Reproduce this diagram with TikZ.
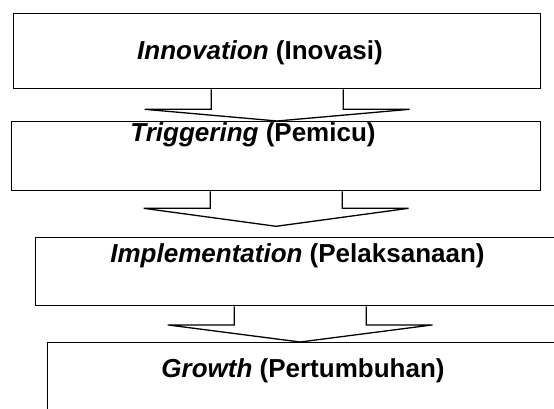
\documentclass[tikz,border=0pt]{standalone}
\usepackage{fontspec}
\setmainfont{Liberation Sans}
\usetikzlibrary{positioning,calc}
\tikzstyle{stage} = [rectangle, draw=black, fill=white, line width=1.3pt, anchor=north west, inner sep=0pt]
\tikzstyle{stagelabel} = [font=\bfseries\fontsize{26}{31}\selectfont, anchor=base, inner sep=0pt]
\tikzstyle{blockarrow} = [draw=black, fill=white, line width=1.3pt, line join=miter]
% wide arrow hanging from the bottom of a box: #1 box, #2 tip, #3 stem length
\newcommand{\stagearrow}[3]{%
  \draw[blockarrow] ($(#1.south)+(-66,0)$) -- ++(0,#3) -- ++(-66.5,0) -- (#2)
    -- ($(#1.south)+(132.5,#3)$) -- ++(-66.5,0) -- ++(0,-#3);}

\begin{document}
\begin{tikzpicture}[x=1pt,y=-1pt]
\useasboundingbox (0,0) rectangle (554,409);
\clip (0,0) rectangle (554,409);

% Stage boxes
\node (inno) [stage, minimum width=527pt, minimum height=75pt] at (13,13) {};
\node (trig) [stage, minimum width=529pt, minimum height=69pt] at (11,121) {};
\node (impl) [stage, minimum width=529pt, minimum height=68pt] at (35,237) {};
\node (grow) [stage, minimum width=600pt, minimum height=100pt] at (47,342) {};

% Labels
\node (innotxt) [stagelabel] at (260,60) {\textit{Innovation} (Inovasi)};
\node (trigtxt) [stagelabel] at (253,142) {\textit{Triggering} (Pemicu)};
\node (impltxt) [stagelabel] at (297.5,262) {\textit{Implementation} (Pelaksanaan)};
\node (growtxt) [stagelabel] at (303,377) {\textit{Growth} (Pertumbuhan)};

% Arrows
\stagearrow{inno}{inno.south |- trig.north}{20}
\coordinate (trigtip) at ($(trig.south)+(0,35)$);
\stagearrow{trig}{trigtip}{17}
\stagearrow{impl}{impl.south |- grow.north}{18.6}
\end{tikzpicture}
\end{document}
